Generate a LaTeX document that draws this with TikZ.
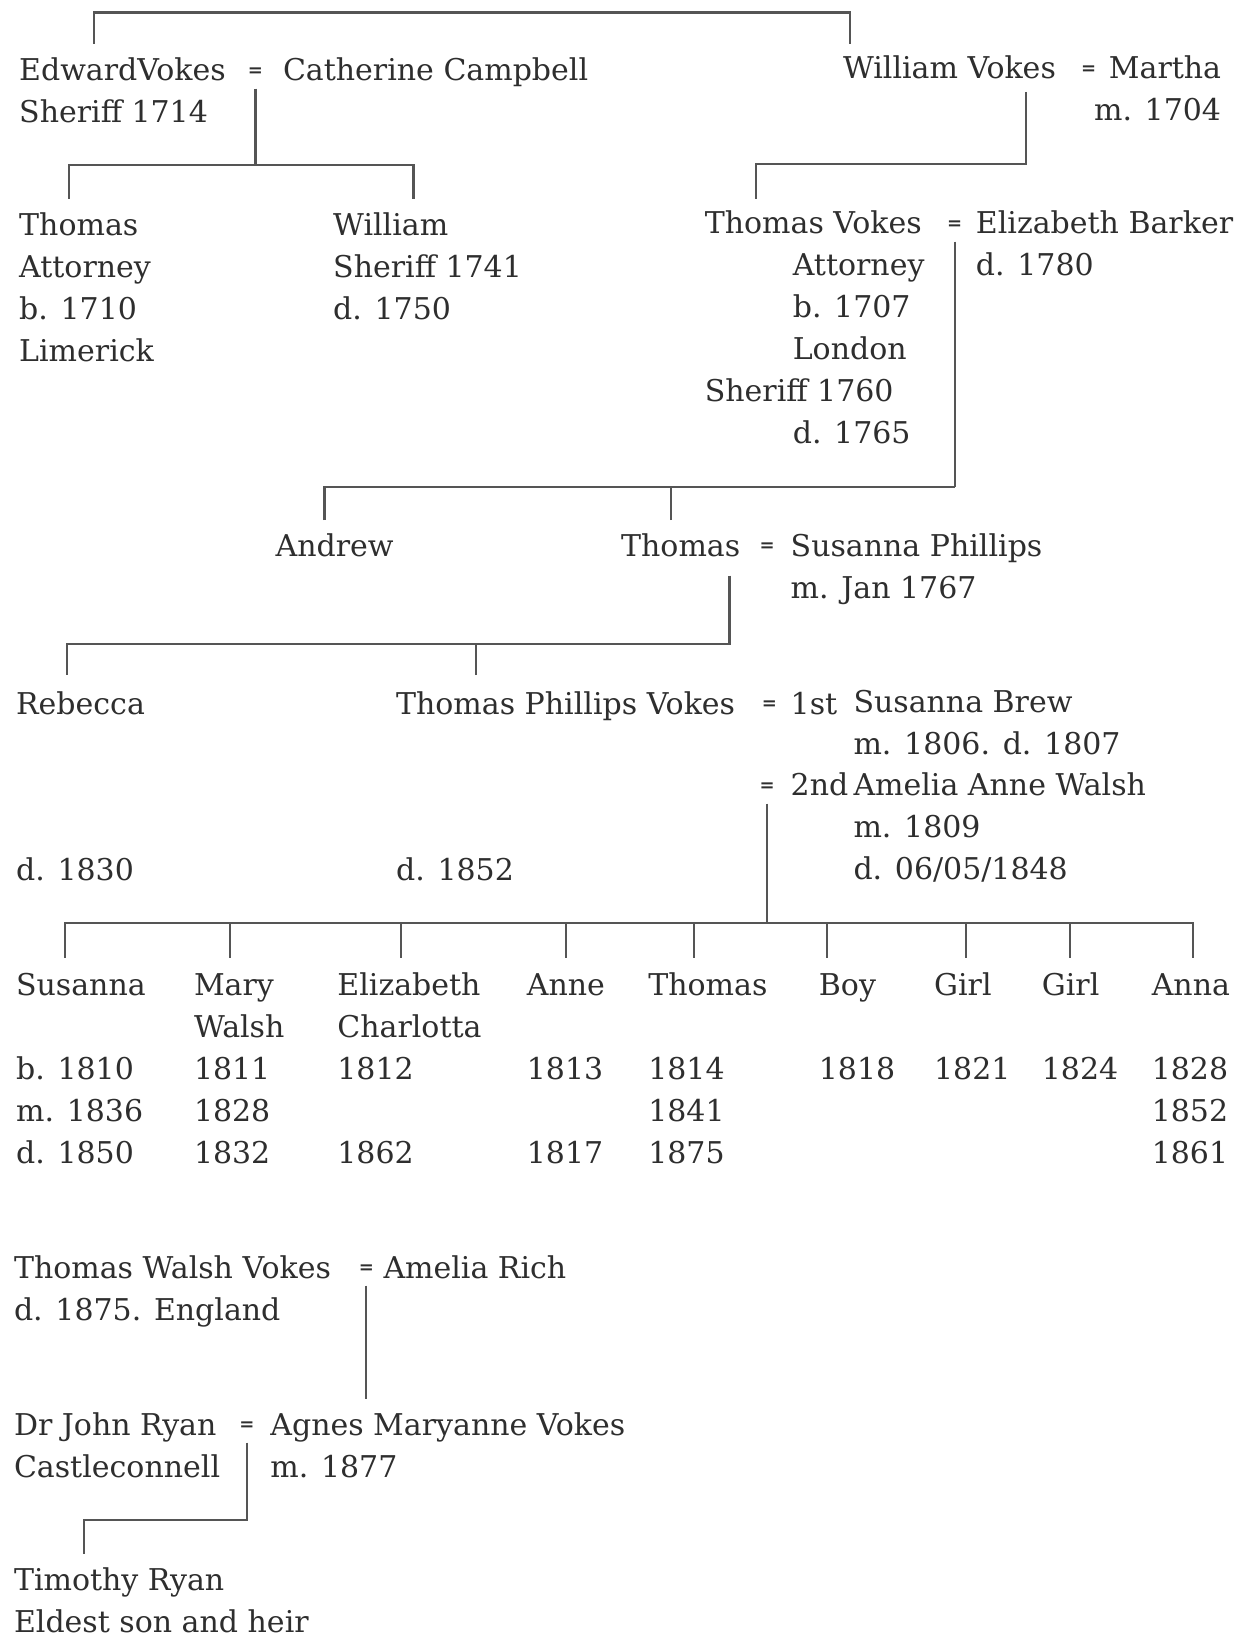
\documentclass[tikz,border=0pt]{standalone}
\usepackage{fontspec}
\setmainfont{DejaVu Serif}
\usepackage{xcolor}
\usetikzlibrary{positioning}
\definecolor{ink}{HTML}{2E2E2E}
\definecolor{rule}{HTML}{555555}
\newcommand{\pushin}{\hspace*{44pt}}
\newcommand{\gap}{\mbox{}}
\begin{document}
\begin{tikzpicture}[x=0.5pt,y=-0.5pt,font=\fontsize{15pt}{21pt}\selectfont,
  person/.style={anchor=north west,yshift=14.7pt,inner sep=0pt,align=left,text=ink},
  eqsign/.style={inner xsep=0pt,inner ysep=6pt,text=ink,font=\fontsize{9pt}{9pt}\selectfont\bfseries},
  tie/.style={draw=rule,line width=1.1pt}]
\fill[white] (0,0) rectangle (1254,1641);
\useasboundingbox (0,0) rectangle (1254,1641);
% first generation
\node[person] (edward) at (18.8,80.6) {\strut EdwardVokes\\Sheriff 1714};
\node[eqsign] (m1) at (255.4,72) {=};
\node[person] (catherine) at (282.6,80.6) {\strut Catherine Campbell};
\node[person] (william) at (842.6,78.5) {\strut William Vokes};
\node[eqsign] (m2) at (1088.6,70) {=};
\node[person,anchor=north east,align=right] (martha) at (1221.5,78.5) {\strut Martha\\m. 1704};
\coordinate (e1) at (94.2,44); \coordinate (e2) at (850,44);
\coordinate (tl) at (94.2,12.6); \coordinate (tr) at (850,12.6);
\draw[tie] (e1) -- (tl) -- (tr) -- (e2);
% second generation
\node[person] (thomas1) at (18.8,235.5) {\strut Thomas\\Attorney\\b. 1710\\Limerick};
\node[person] (william1) at (332.8,235.5) {\strut William\\Sheriff 1741\\d. 1750};
\coordinate (j1) at (255.4,165.4);
\coordinate (d1) at (69.1,198.9); \coordinate (d2) at (413.4,198.9);
\draw[tie] (m1) -- (j1); \draw[tie] (d1) |- (j1) -| (d2);
\node[person] (thomasv) at (704.4,233.4) {\strut Thomas Vokes\\\pushin Attorney\\\pushin b. 1707\\\pushin London\\Sheriff 1760\\\pushin d. 1765};
\node[eqsign] (m3) at (954.6,225) {=};
\node[person] (elizabeth) at (975.5,233.4) {\strut Elizabeth Barker\\d. 1780};
\coordinate (wv) at (1025.8,92); \coordinate (j2) at (1025.8,164.3);
\coordinate (d3) at (755.7,198.9);
\draw[tie] (wv) -- (j2) -| (d3);
% third generation
\node[person] (andrew) at (275.3,555.8) {\strut Andrew};
\node[person] (thomas2) at (620.7,555.8) {\strut Thomas};
\node[eqsign] (m4) at (767.2,547) {=};
\node[person] (susannap) at (790.3,555.8) {\strut Susanna Phillips\\m. Jan 1767};
\coordinate (j3) at (954.6,486.7);
\coordinate (d4) at (324.5,520.2); \coordinate (d5) at (670.9,520.2);
\draw[tie] (m3) -- (j3); \draw[tie] (d4) |- (j3); \draw[tie] (d5) -- (d5 |- j3);
% fourth generation
\node[person] (rebecca) at (15.7,713.9) {\strut Rebecca};
\node[person] (tpv) at (395.7,713.9) {\strut Thomas Phillips Vokes};
\node[eqsign] (m5) at (769.3,705) {=};
\node[person] (first) at (790.3,713.9) {\strut 1st};
\node[person] (susannab) at (853.1,711.8) {\strut Susanna Brew\\m. 1806. d. 1807};
\node[eqsign] (m6) at (767.2,787) {=};
\node[person] (second) at (790.3,795.5) {\strut 2nd};
\node[person] (amelia) at (853.1,795.5) {\strut Amelia Anne Walsh\\m. 1809\\d. 06/05/1848};
\node[person] (rebeccad) at (15.7,880.3) {\strut d. 1830};
\node[person] (tpvd) at (395.7,880.3) {\strut d. 1852};
\coordinate (tp) at (729.5,575.7); \coordinate (j4) at (729.5,643.7);
\coordinate (d6) at (67,675.1); \coordinate (d7) at (476.2,675.1);
\draw[tie] (tp) -- (j4) -| (d6); \draw[tie] (d7) -- (d7 |- j4);
% children of the second marriage
\node[person] (susanna) at (15.7,995.4) {\strut Susanna\\\gap\\b. 1810\\m. 1836\\d. 1850};
\node[person] (mary) at (193.6,995.4) {\strut Mary\\Walsh\\1811\\1828\\1832};
\node[person] (elizabethc) at (337,995.4) {\strut Elizabeth\\Charlotta\\1812\\\gap\\1862};
\node[person] (anne) at (526.5,995.4) {\strut Anne\\\gap\\1813\\\gap\\1817};
\node[person] (thomas3) at (647.9,995.4) {\strut Thomas\\\gap\\1814\\1841\\1875};
\node[person] (boy) at (818.5,995.4) {\strut Boy\\\gap\\1818};
\node[person] (girla) at (933.7,995.4) {\strut Girl\\\gap\\1821};
\node[person] (girlb) at (1041.5,995.4) {\strut Girl\\\gap\\1824};
\node[person] (anna) at (1151.4,995.4) {\strut Anna\\\gap\\1828\\1852\\1861};
\coordinate (j5) at (767.2,923.2);
\coordinate (c1) at (64.9,957.7); \coordinate (c2) at (230.3,957.7); \coordinate (c3) at (400.9,957.7);
\coordinate (c4) at (566.3,957.7); \coordinate (c5) at (694,957.7); \coordinate (c6) at (826.9,957.7);
\coordinate (c7) at (966.1,957.7); \coordinate (c8) at (1069.7,957.7); \coordinate (c9) at (1193.2,957.7);
\draw[tie] (m6) -- (j5); \draw[tie] (c1) |- (c9 |- j5) -- (c9);
\draw[tie] (c2) -- (c2 |- j5); \draw[tie] (c3) -- (c3 |- j5); \draw[tie] (c4) -- (c4 |- j5);
\draw[tie] (c5) -- (c5 |- j5); \draw[tie] (c6) -- (c6 |- j5); \draw[tie] (c7) -- (c7 |- j5);
\draw[tie] (c8) -- (c8 |- j5);
% later line
\node[person] (twv) at (13.6,1278) {\strut Thomas Walsh Vokes\\d. 1875. England};
\node[eqsign] (m7) at (366.3,1269) {=};
\node[person] (ameliar) at (383.1,1278) {\strut Amelia Rich};
\node[person] (john) at (13.6,1435) {\strut Dr John Ryan\\Castleconnell};
\node[eqsign] (m8) at (247,1426) {=};
\node[person] (agnes) at (270,1435) {\strut Agnes Maryanne Vokes\\m. 1877};
\node[person] (timothy) at (13.6,1590) {\strut Timothy Ryan\\Eldest son and heir};
\coordinate (j7) at (366.3,1399.4);
\coordinate (j8) at (247,1519.8); \coordinate (d8) at (83.7,1554.4);
\draw[tie] (m7) -- (j7); \draw[tie] (m8) -- (j8) -| (d8);
\end{tikzpicture}
\end{document}
